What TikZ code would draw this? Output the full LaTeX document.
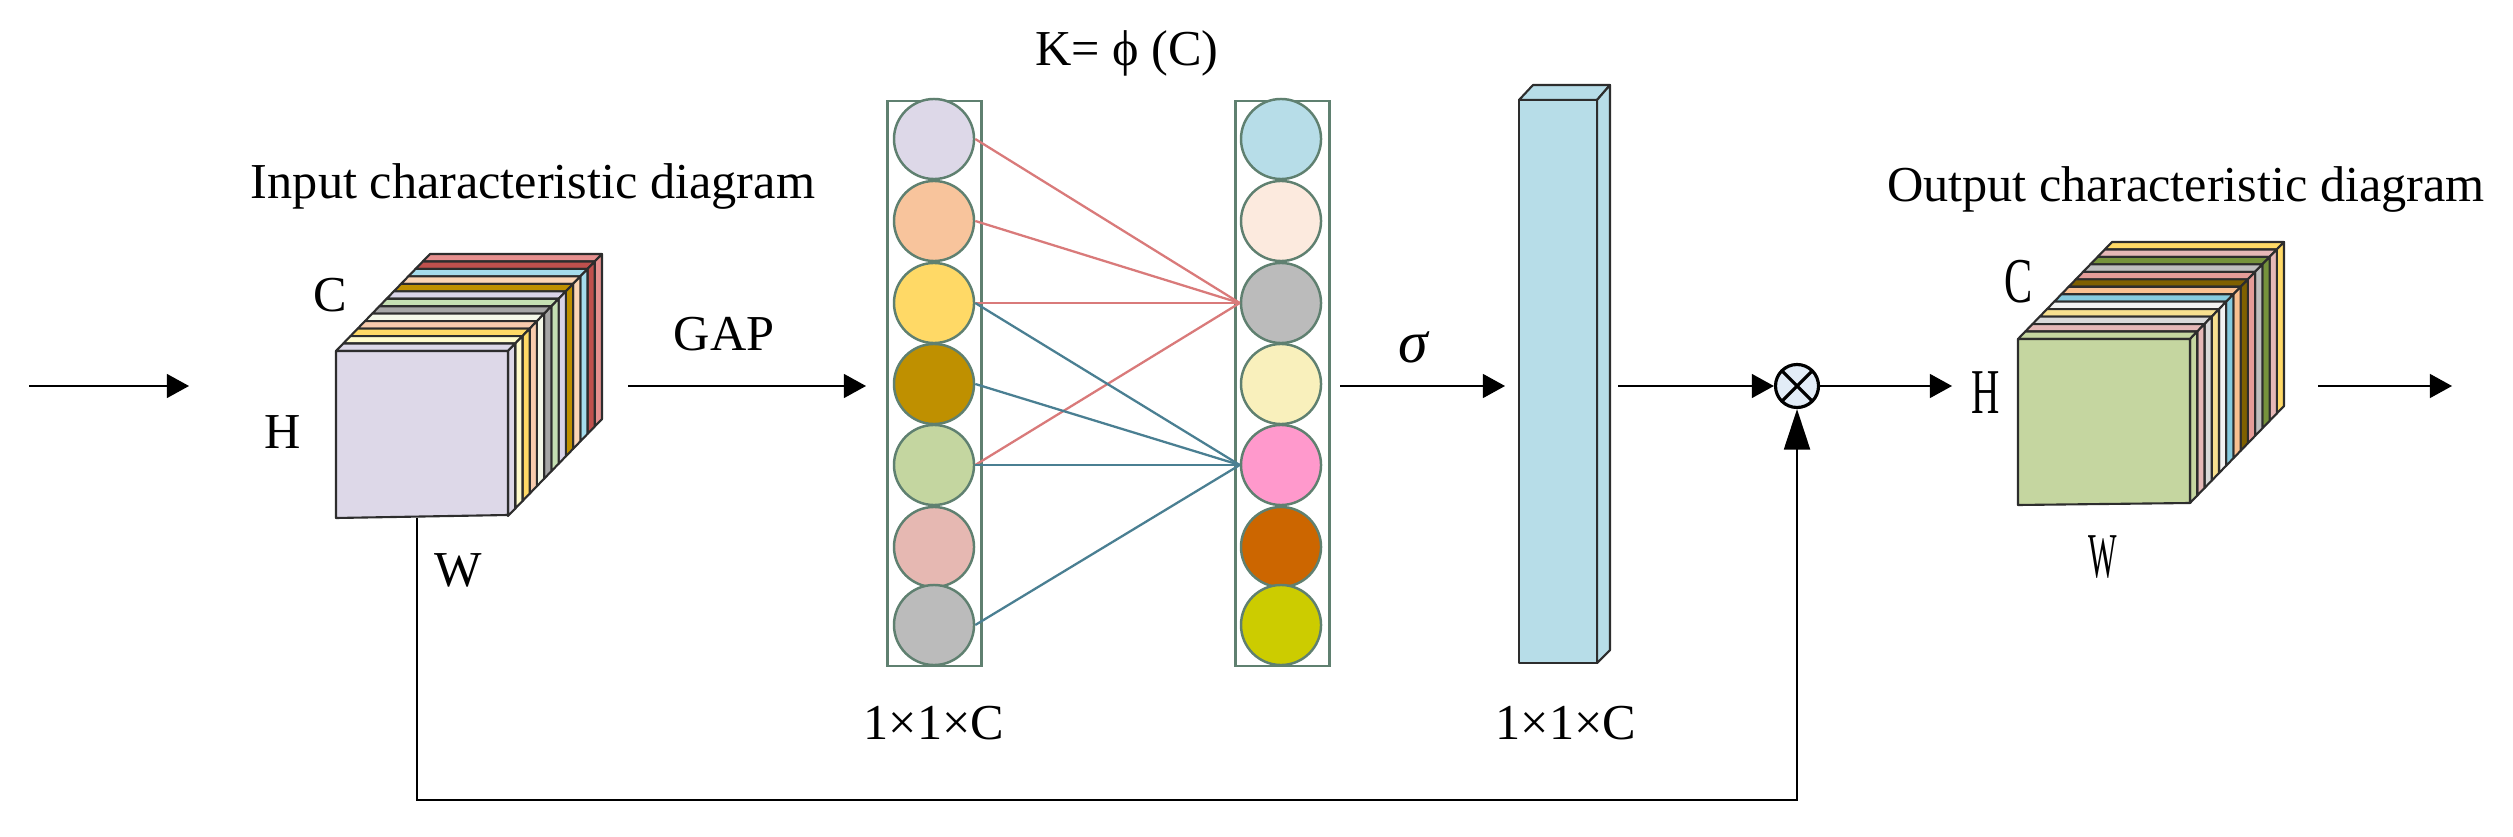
\documentclass[tikz,border=0pt]{standalone}
\usepackage{graphicx}
\usepackage{fontspec}
\setmainfont{Liberation Serif}
\usepackage{tikz}
\usetikzlibrary{arrows.meta}
\definecolor{ColEdge}{RGB}{45,45,45}
\definecolor{ColRing}{RGB}{95,128,112}
\definecolor{ColRed}{RGB}{217,122,122}
\definecolor{ColBlue}{RGB}{74,127,146}
\definecolor{ColBar}{RGB}{183,221,232}
\definecolor{ColFrontIn}{RGB}{221,216,232}
\definecolor{ColFrontOut}{RGB}{197,214,160}
\definecolor{ColMul}{RGB}{226,236,247}
\tikzstyle{Label}=[inner sep=0pt,font=\fontsize{14.3pt}{16pt}\selectfont]
\tikzstyle{SlabEdge}=[draw=ColEdge,line width=.6pt,line join=round]
\tikzstyle{ColumnBox}=[rectangle,draw=ColRing,line width=.75pt,minimum width=.94cm,minimum height=5.65cm,inner sep=0pt]
\tikzstyle{NodeCirc}=[circle,draw=ColRing,line width=.7pt,minimum size=.8cm,inner sep=0pt]
\tikzstyle{NodeMul}=[circle,draw=black,line width=.9pt,fill=ColMul,minimum size=.43cm,inner sep=0pt,
path picture={\draw[black,line width=.9pt](path picture bounding box.north west)--(path picture bounding box.south east)
(path picture bounding box.north east)--(path picture bounding box.south west);}]
\tikzstyle{EdgeRed}=[ColRed,line width=.65pt]
\tikzstyle{EdgeBlue}=[ColBlue,line width=.65pt]
\tikzstyle{ArcFlow}=[black,line width=.55pt,-{Triangle[length=6.3pt,width=6.8pt]}]
\tikzstyle{ArcFeed}=[black,line width=.55pt,-{Triangle[length=11.5pt,width=7.4pt]}]
\newcommand{\TallText}[2]{\scalebox{#1}[1.27]{#2}}
% left, right, top, bottom, shift x, shift y, colours from the back to the front
\newcommand{\DrawSlabs}[7]{
    \foreach \c [count=\k from 0] in {#7}{
        \definecolor{SlabCol}{HTML}{\c}
        \pgfmathsetmacro{\ta}{(12-\k)/13}
        \pgfmathsetmacro{\tb}{(13-\k)/13}
        \filldraw[SlabEdge,fill=SlabCol]({#1+\ta*#5},{#3+\ta*#6})--({#2+\ta*#5},{#3+\ta*#6})
            --({#2+\tb*#5},{#3+\tb*#6})--({#1+\tb*#5},{#3+\tb*#6})--cycle;
        \filldraw[SlabEdge,fill=SlabCol]({#2+\ta*#5},{#3+\ta*#6})--({#2+\ta*#5},{#4+\ta*#6})
            --({#2+\tb*#5},{#4+\tb*#6})--({#2+\tb*#5},{#3+\tb*#6})--cycle;
    }
}
\begin{document}
\begin{tikzpicture}[x=.01cm,y=-.01cm]
    \useasboundingbox(0,0)rectangle(2513,837);
    % input cube
    \DrawSlabs{336}{508}{351}{516}{94}{-97}{E6908F,C0504D,A5DCEC,FBD5B5,BF9000,D9D3E8,C5E0B3,A6A6A6,F4F8E8,F8CBAD,FFD966,FFFBCC,DDD8E8}
    \filldraw[SlabEdge,fill=ColFrontIn](336,351)--(508,351)--(508,515)--(336,518)--cycle;
    \coordinate(FeedStart)at(417,518);
    % output cube
    \DrawSlabs{2018}{2190}{339}{503}{94}{-97}{FFD966,E6B8B7,76933C,BFBFBF,E59C98,7F6000,FAC090,86CBDF,F2F2F2,F7E08F,D9D9D9,E5B8B7,C5D6A0}
    \filldraw[SlabEdge,fill=ColFrontOut](2018,339)--(2190,339)--(2190,503)--(2018,505)--cycle;
    % columns of circles
    \node[ColumnBox](ColL)at(934.5,383.5){};
    \node[ColumnBox](ColR)at(1282.5,383.5){};
    \foreach \i/\y/\c in {1/139/DDD8E8,2/221/F8C49C,3/303/FFD966,4/384/BF9000,5/465/C4D6A0,6/547/E6B8B2,7/625/BBBBBB}{
        \definecolor{CircCol}{HTML}{\c}
        \node[NodeCirc,fill=CircCol](l\i)at(934,\y){};
    }
    \foreach \i/\y/\c in {1/139/B7DDE8,2/221/FCEADE,3/303/BBBBBB,4/384/F9F0BC,5/465/FF99CC,6/547/CC6600,7/625/CCCC00}{
        \definecolor{CircCol}{HTML}{\c}
        \node[NodeCirc,fill=CircCol](r\i)at(1281,\y){};
    }
    \draw[EdgeRed](l1.east)--(r3.west);
    \draw[EdgeRed](l2.east)--(r3.west);
    \draw[EdgeRed](l3.east)--(r3.west);
    \draw[EdgeRed](l5.east)--(r3.west);
    \draw[EdgeBlue](l3.east)--(r5.west);
    \draw[EdgeBlue](l4.east)--(r5.west);
    \draw[EdgeBlue](l5.east)--(r5.west);
    \draw[EdgeBlue](l7.east)--(r5.west);
    % bar
    \filldraw[SlabEdge,fill=ColBar](1519,100)--(1533,85)--(1610,85)--(1597,100)--cycle;
    \filldraw[SlabEdge,fill=ColBar](1597,100)--(1610,85)--(1610,650)--(1597,663)--cycle;
    \filldraw[SlabEdge,fill=ColBar](1519,100)--(1597,100)--(1597,663)--(1519,663)--cycle;
    % product
    \node[NodeMul](mul)at(1797,386){};
    % arrows
    \coordinate(InA)at(29,386);
    \coordinate(InB)at(189,386);
    \coordinate(GapA)at(628,386);
    \coordinate(GapB)at(866,386);
    \coordinate(SigA)at(1340,386);
    \coordinate(SigB)at(1505,386);
    \coordinate(BarA)at(1618,386);
    \coordinate(MulB)at(1952,386);
    \coordinate(OutA)at(2318,386);
    \coordinate(OutB)at(2452,386);
    \draw[ArcFlow](InA)--(InB);
    \draw[ArcFlow](GapA)--(GapB);
    \draw[ArcFlow](SigA)--(SigB);
    \draw[ArcFlow](BarA)--(mul.west);
    \draw[ArcFlow](mul.east)--(MulB);
    \draw[ArcFlow](OutA)--(OutB);
    \draw[ArcFeed](FeedStart)--(417,800)--(1797,800)--(mul.south);
    % labels
    \node[Label](inTitle)at(533,186){Input characteristic diagram};
    \node[Label](outTitle)at(2186,189){Output characteristic diagram};
    \node[Label](inC)at(330,295){C};
    \node[Label](inH)at(283,432){H};
    \node[Label](inW)at(458,570){W};
    \node[Label](gap)at(724,334){GAP};
    \node[Label](kf)at(1127,53){K= ϕ (C)};
    \node[Label](dimL)at(934,723){1×1×C};
    \node[Label](dimR)at(1566,723){1×1×C};
    \node[Label,font=\fontsize{17pt}{19pt}\selectfont\itshape](sig)at(1413,347){σ};
    \node[Label](outC)at(2019,282){\TallText{.84}{C}};
    \node[Label](outH)at(1986,393){\TallText{.78}{H}};
    \node[Label](outW)at(2103,557){\TallText{.6}{W}};
\end{tikzpicture}
\end{document}
